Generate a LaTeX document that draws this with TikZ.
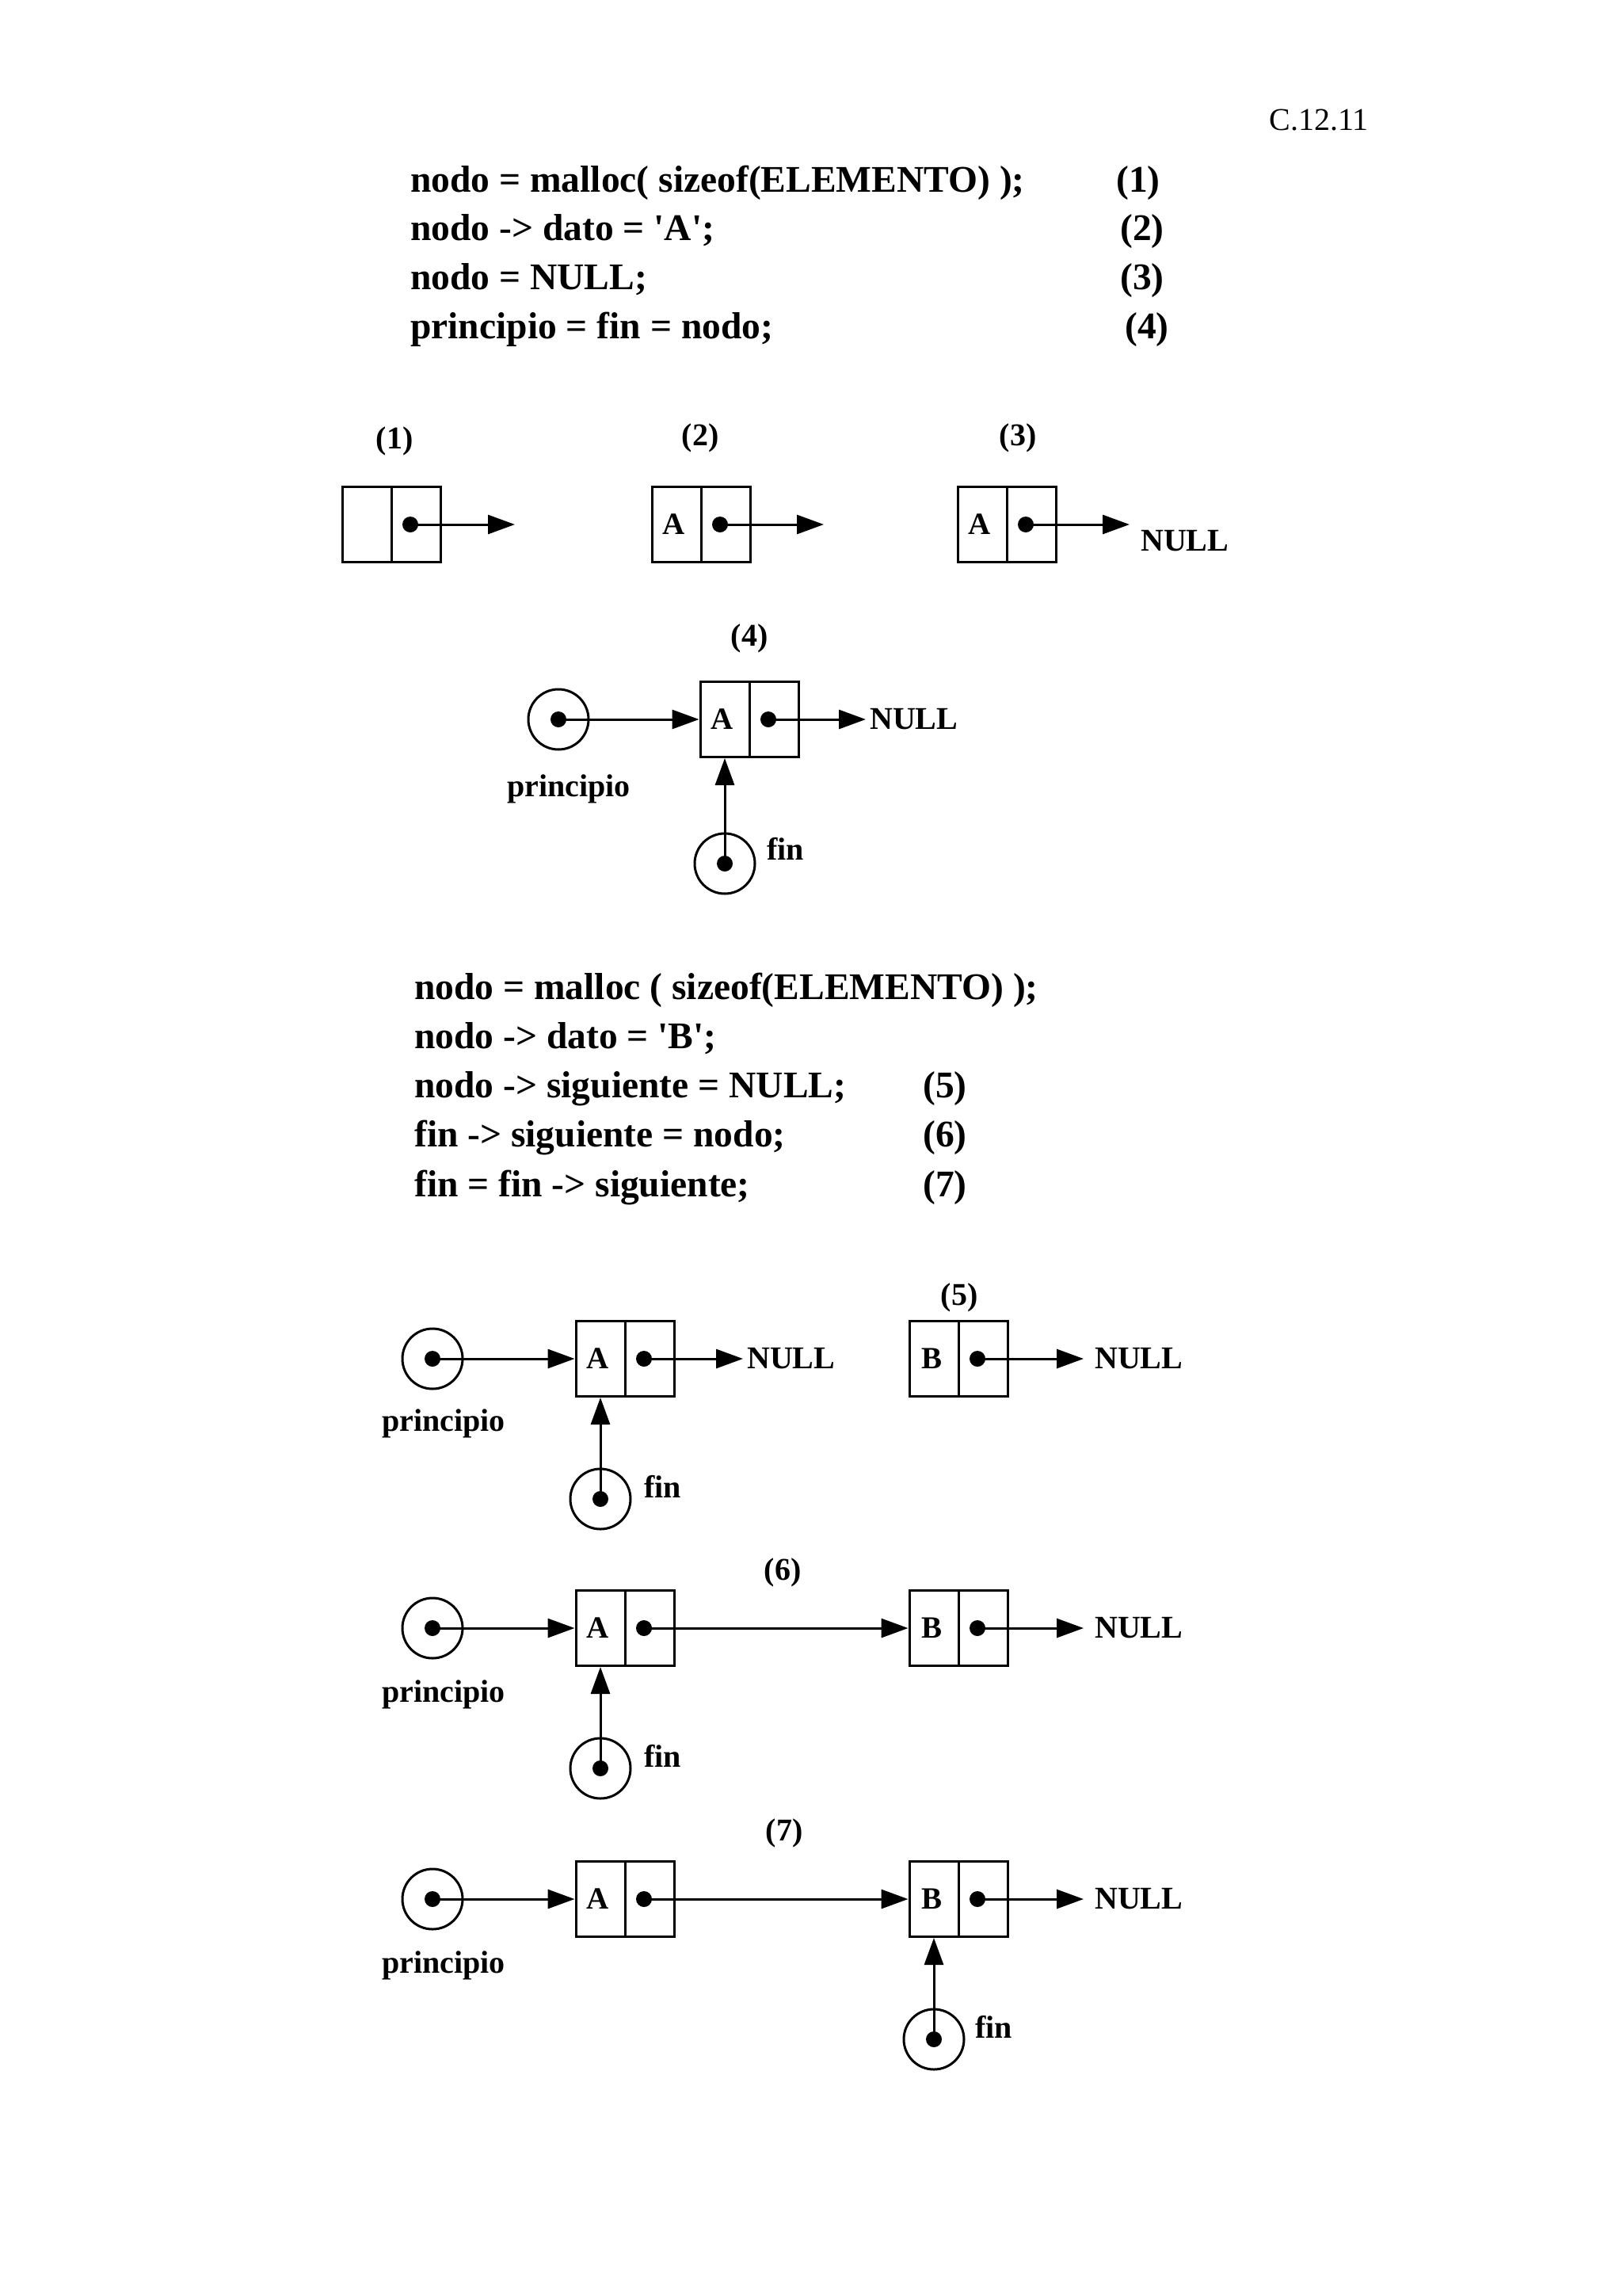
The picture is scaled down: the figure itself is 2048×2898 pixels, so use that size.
\documentclass[tikz,border=0pt]{standalone}
\usepackage{fontspec}
\setmainfont{Liberation Serif}[Ligatures=TeXOff]
\usetikzlibrary{arrows.meta}
\newcommand\codefs{\fontsize{47.5}{57}\selectfont\bfseries}
\newcommand\labfs{\fontsize{40}{48}\selectfont\bfseries}
\newcommand\cellfs{\fontsize{39}{47}\selectfont\bfseries}
\newcommand\hdrfs{\fontsize{40}{48}\selectfont}
\newcommand\cellA{\kern-6pt A}
\newcommand\cellB{\kern-6pt B}
\begin{document}
\begin{tikzpicture}[x=1pt,y=-1pt,
  every node/.style={inner sep=0pt},
  codeline/.style={anchor=base west, font=\codefs},
  codenum/.style={anchor=base, font=\codefs},
  lab/.style={font=\labfs},
  labbase/.style={font=\labfs, anchor=base},
  labwest/.style={font=\labfs, anchor=base west},
  nullnode/.style={font=\labfs, anchor=west, inner xsep=5pt},
  cell/.style={draw, line width=3pt, minimum width=62pt, minimum height=95pt, font=\cellfs},
  ptrc/.style={draw, circle, line width=3pt, minimum size=76pt},
  arr/.style={line width=3pt, -{Triangle[length=34pt,width=24pt]}},
]
\useasboundingbox[fill=white] (0,0) rectangle (2048,2898);

% header
\node[anchor=base, font=\hdrfs] (hdr) at (1665,165) {C.12.11};

% code block 1
\node[codeline] (c11) at (518,242) {nodo = malloc( sizeof(ELEMENTO) );};
\node[codeline] (c12) at (518,303) {nodo -> dato = 'A';};
\node[codeline] (c13) at (518,365) {nodo = NULL;};
\node[codeline] (c14) at (518,427) {principio = fin = nodo;};
\node[codenum] (k1) at (1437,242) {(1)};
\node[codenum] (k2) at (1442,303) {(2)};
\node[codenum] (k3) at (1442,365) {(3)};
\node[codenum] (k4) at (1448,427) {(4)};

% row 1
\node[lab] (l1) at (498,557) {(1)};
\node[cell] (b1l) at (463,662) {};
\node[cell] (b1r) at (525,662) {};
\coordinate (d1) at ([xshift=-7pt]b1r.center);
\coordinate (e1) at (650,662);
\fill (d1) circle[radius=10pt];
\draw[arr] (d1) -- (e1);

\node[lab] (l2) at (884,553) {(2)};
\node[cell] (b2l) at (854,662) {\cellA};
\node[cell] (b2r) at (916,662) {};
\coordinate (d2) at ([xshift=-7pt]b2r.center);
\coordinate (e2) at (1040,662);
\fill (d2) circle[radius=10pt];
\draw[arr] (d2) -- (e2);

\node[lab] (l3) at (1285,553) {(3)};
\node[cell] (b3l) at (1240,662) {\cellA};
\node[cell] (b3r) at (1302,662) {};
\coordinate (d3) at ([xshift=-7pt]b3r.center);
\coordinate (e3) at (1426,662);
\fill (d3) circle[radius=10pt];
\draw[arr] (d3) -- (e3);
\node[labwest] (n3) at (1440,695) {NULL};

% (4)
\node[lab] (l4) at (946,806) {(4)};
\node[cell] (b4l) at (915,908) {\cellA};
\node[cell] (b4r) at (977,908) {};
\coordinate (d4) at ([xshift=-7pt]b4r.center);
\node[nullnode] (n4) at (1093,908) {NULL};
\fill (d4) circle[radius=10pt];
\draw[arr] (d4) -- (n4.west);
\node[ptrc] (p4) at (705,908) {};
\fill (p4.center) circle[radius=10pt];
\draw[arr] (p4.center) -- (b4l.west);
\node[labbase] (pl4) at (718,1005) {principio};
\node[ptrc] (f4) at (915,1090) {};
\fill (f4.center) circle[radius=10pt];
\draw[arr] (f4.center) -- (b4l.south);
\node[labwest] (fl4) at (968,1085) {fin};

% code block 2
\node[codeline] (c21) at (523,1261) {nodo = malloc ( sizeof(ELEMENTO) );};
\node[codeline] (c22) at (523,1323) {nodo -> dato = 'B';};
\node[codeline] (c23) at (523,1385) {nodo -> siguiente = NULL;};
\node[codeline] (c24) at (523,1447) {fin -> siguiente = nodo;};
\node[codeline] (c25) at (523,1510) {fin = fin -> siguiente;};
\node[codenum] (k5) at (1193,1385) {(5)};
\node[codenum] (k6) at (1193,1447) {(6)};
\node[codenum] (k7) at (1193,1510) {(7)};

% row 5
\node[ptrc] (p5) at (546,1715) {};
\node[labbase] (pl5) at (560,1806) {principio};
\node[cell] (b5l) at (758,1715) {\cellA};
\node[cell] (b5r) at (820,1715) {};
\coordinate (d5) at ([xshift=-7pt]b5r.center);
\node[nullnode] (n5a) at (938,1715) {NULL};
\node[ptrc] (f5) at (758,1892) {};
\node[labwest] (fl5) at (813,1890) {fin};
\fill (p5.center) circle[radius=10pt];
\draw[arr] (p5.center) -- (b5l.west);
\fill (d5) circle[radius=10pt];
\draw[arr] (d5) -- (n5a.west);
\fill (f5.center) circle[radius=10pt];
\draw[arr] (f5.center) -- (b5l.south);
\node[lab] (l5) at (1211,1638) {(5)};
\node[cell] (c5l) at (1179,1715) {\cellB};
\node[cell] (c5r) at (1241,1715) {};
\coordinate (g5) at ([xshift=-7pt]c5r.center);
\node[nullnode, inner xsep=14pt] (n5b) at (1368,1715) {NULL};
\fill (g5) circle[radius=10pt];
\draw[arr] (g5) -- (n5b.west);

% row 6
\node[lab] (l6) at (988,1985) {(6)};
\node[ptrc] (p6) at (546,2055) {};
\node[labbase] (pl6) at (560,2148) {principio};
\node[cell] (b6l) at (758,2055) {\cellA};
\node[cell] (b6r) at (820,2055) {};
\coordinate (d6) at ([xshift=-7pt]b6r.center);
\node[cell] (c6l) at (1179,2055) {\cellB};
\node[cell] (c6r) at (1241,2055) {};
\coordinate (g6) at ([xshift=-7pt]c6r.center);
\node[nullnode, inner xsep=14pt] (n6) at (1368,2055) {NULL};
\node[ptrc] (f6) at (758,2232) {};
\node[labwest] (fl6) at (813,2230) {fin};
\fill (p6.center) circle[radius=10pt];
\draw[arr] (p6.center) -- (b6l.west);
\fill (d6) circle[radius=10pt];
\draw[arr] (d6) -- (c6l.west);
\fill (g6) circle[radius=10pt];
\draw[arr] (g6) -- (n6.west);
\fill (f6.center) circle[radius=10pt];
\draw[arr] (f6.center) -- (b6l.south);

% row 7
\node[lab] (l7) at (990,2314) {(7)};
\node[ptrc] (p7) at (546,2397) {};
\node[labbase] (pl7) at (560,2490) {principio};
\node[cell] (b7l) at (758,2397) {\cellA};
\node[cell] (b7r) at (820,2397) {};
\coordinate (d7) at ([xshift=-7pt]b7r.center);
\node[cell] (c7l) at (1179,2397) {\cellB};
\node[cell] (c7r) at (1241,2397) {};
\coordinate (g7) at ([xshift=-7pt]c7r.center);
\node[nullnode, inner xsep=14pt] (n7) at (1368,2397) {NULL};
\node[ptrc] (f7) at (1179,2574) {};
\node[labwest] (fl7) at (1231,2572) {fin};
\fill (p7.center) circle[radius=10pt];
\draw[arr] (p7.center) -- (b7l.west);
\fill (d7) circle[radius=10pt];
\draw[arr] (d7) -- (c7l.west);
\fill (g7) circle[radius=10pt];
\draw[arr] (g7) -- (n7.west);
\fill (f7.center) circle[radius=10pt];
\draw[arr] (f7.center) -- (c7l.south);
\end{tikzpicture}
\end{document}
